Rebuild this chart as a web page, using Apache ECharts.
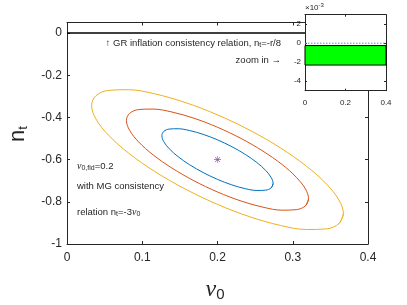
<!DOCTYPE html>
<html>
<head>
<meta charset="utf-8">
<script src="https://cdn.jsdelivr.net/npm/echarts@6/dist/echarts.min.js"></script>
<style>html,body{margin:0;padding:0;background:#fff}#c{width:407px;height:305px}</style>
</head>
<body>
<div id="c"></div>
<script>
// ---- data ----
const fiducial = [[0.2, -0.6]];                 // (nu0, n_t) fiducial
const contour1 = [[0.2739,-0.7133],[0.2714,-0.7337],[0.2640,-0.7449],[0.2523,-0.7463],[0.2370,-0.7378],[0.2191,-0.7198],[0.2000,-0.6937],[0.1809,-0.6612],[0.1630,-0.6245],[0.1477,-0.5862],[0.1360,-0.5488],[0.1286,-0.5149],[0.1261,-0.4867],[0.1286,-0.4663],[0.1360,-0.4551],[0.1477,-0.4537],[0.1630,-0.4622],[0.1809,-0.4802],[0.2000,-0.5063],[0.2191,-0.5388],[0.2370,-0.5755],[0.2523,-0.6138],[0.2640,-0.6512],[0.2714,-0.6851]];
const contour2 = [[0.3210,-0.7855],[0.3169,-0.8188],[0.3048,-0.8373],[0.2856,-0.8396],[0.2605,-0.8256],[0.2313,-0.7962],[0.2000,-0.7534],[0.1687,-0.7002],[0.1395,-0.6401],[0.1144,-0.5774],[0.0952,-0.5161],[0.0831,-0.4606],[0.0790,-0.4145],[0.0831,-0.3812],[0.0952,-0.3627],[0.1144,-0.3604],[0.1395,-0.3744],[0.1687,-0.4038],[0.2000,-0.4466],[0.2313,-0.4998],[0.2605,-0.5599],[0.2856,-0.6226],[0.3048,-0.6839],[0.3169,-0.7394]];
const contour3 = [[0.3673,-0.8565],[0.3616,-0.9027],[0.3449,-0.9282],[0.3183,-0.9314],[0.2837,-0.9120],[0.2433,-0.8713],[0.2000,-0.8122],[0.1567,-0.7386],[0.1163,-0.6555],[0.0817,-0.5687],[0.0551,-0.4839],[0.0384,-0.4072],[0.0327,-0.3435],[0.0384,-0.2973],[0.0551,-0.2718],[0.0817,-0.2686],[0.1163,-0.2880],[0.1567,-0.3287],[0.2000,-0.3878],[0.2433,-0.4614],[0.2837,-0.5445],[0.3183,-0.6313],[0.3449,-0.7161],[0.3616,-0.7928]];
const grRelation = [[0, 0], [0.4, 0]];          // n_t = -r/8 ~ 0
const zoomZero = [[0, 0], [0.4, 0]];
const zoomBand = [-0.00025, -0.0023];           // green band (top, bottom)
const mainXTicks = [0, 0.1, 0.2, 0.3, 0.4];
const mainYTicks = [-1, -0.8, -0.6, -0.4, -0.2, 0];
const zoomXTicks = [0, 0.2, 0.4];
const zoomYTicks = [-0.004, -0.002, 0, 0.002];

const AX = '#262626';
const FONT = 'Liberation Sans, Arial, Helvetica, sans-serif';
const close = a => a.concat([a[0], a[1]]);

const chart = echarts.init(document.getElementById('c'), null, {renderer: 'canvas'});

function ax(extra) {
  return Object.assign({
    type: 'value',
    axisLine: {show: true, onZero: false, lineStyle: {color: AX, width: 1}},
    axisTick: {show: true, inside: true, length: 3, lineStyle: {color: AX}},
    splitLine: {show: false},
    axisLabel: {show: false}
  }, extra);
}

const option = {
  animation: false,
  backgroundColor: '#fff',
  grid: [
    {left: 67, right: 39, top: 22.5, bottom: 61, show: false},
    {left: 305, width: 81, top: 14.7, height: 76, show: true, backgroundColor: '#fff', borderWidth: 0, z: 10}
  ],
  xAxis: [
    ax({gridIndex: 0, position: 'bottom', min: 0, max: 0.4, interval: 0.1,
        axisLabel: {show: true, color: AX, fontSize: 12, fontFamily: FONT, margin: 8,
                    customValues: mainXTicks}}),
    ax({gridIndex: 0, position: 'top', min: 0, max: 0.4, interval: 0.1}),
    ax({gridIndex: 1, position: 'bottom', min: 0, max: 0.4, interval: 0.2, z: 12,
        axisTick: {show: true, inside: true, length: 2, lineStyle: {color: AX}},
        axisLabel: {show: true, color: AX, fontSize: 8, fontFamily: FONT, margin: 8, customValues: zoomXTicks}}),
    ax({gridIndex: 1, position: 'top', min: 0, max: 0.4, interval: 0.2, z: 12,
        axisTick: {show: true, inside: true, length: 2, lineStyle: {color: AX}}})
  ],
  yAxis: [
    ax({gridIndex: 0, position: 'left', min: -1, max: 0.05, interval: 0.2,
        axisTick: {show: true, inside: true, length: 3, customValues: mainYTicks, lineStyle: {color: AX}},
        axisLabel: {show: true, color: AX, fontSize: 12, fontFamily: FONT, margin: 5,
                    customValues: mainYTicks, formatter: v => String(Math.round(v * 10) / 10)}}),
    ax({gridIndex: 0, position: 'right', min: -1, max: 0.05, interval: 0.2,
        axisTick: {show: true, inside: true, length: 3, customValues: mainYTicks, lineStyle: {color: AX}}}),
    ax({gridIndex: 1, position: 'left', min: -0.005, max: 0.003, z: 12,
        axisTick: {show: true, inside: true, length: 2, customValues: zoomYTicks, lineStyle: {color: AX}},
        axisLabel: {show: true, color: AX, fontSize: 8, fontFamily: FONT, margin: 4,
                    customValues: zoomYTicks, formatter: v => String(Math.round(v * 1000))}}),
    ax({gridIndex: 1, position: 'right', min: -0.005, max: 0.003, z: 12,
        axisTick: {show: true, inside: true, length: 2, customValues: zoomYTicks, lineStyle: {color: AX}}})
  ],
  series: [
    {type: 'line', xAxisIndex: 0, yAxisIndex: 0, data: grRelation, showSymbol: false, z: 3,
     lineStyle: {color: '#000', width: 1.5}},
    {type: 'line', xAxisIndex: 0, yAxisIndex: 0, data: close(contour3), showSymbol: false, smooth: 0.35,
     lineStyle: {color: '#EDB120', width: 1}},
    {type: 'line', xAxisIndex: 0, yAxisIndex: 0, data: close(contour2), showSymbol: false, smooth: 0.35,
     lineStyle: {color: '#D95319', width: 1}},
    {type: 'line', xAxisIndex: 0, yAxisIndex: 0, data: close(contour1), showSymbol: false, smooth: 0.35,
     lineStyle: {color: '#0072BD', width: 1}},
    {type: 'scatter', xAxisIndex: 0, yAxisIndex: 0, data: fiducial, symbolSize: 7,
     symbol: 'path://M0,4.6L10,4.6L10,5.4L0,5.4Z M4.6,0L5.4,0L5.4,10L4.6,10Z M1.2,1.8L1.8,1.2L8.8,8.2L8.2,8.8Z M8.2,1.2L8.8,1.8L1.8,8.8L1.2,8.2Z',
     itemStyle: {color: '#7E2F8E'}},
    {type: 'line', xAxisIndex: 2, yAxisIndex: 2, data: [[0, zoomBand[0]], [0.4, zoomBand[0]]], showSymbol: false, z: 11,
     lineStyle: {width: 0},
     markArea: {silent: true, z: 13, itemStyle: {color: '#00FF00', borderColor: '#000', borderWidth: 1},
       data: [[{coord: [0, zoomBand[0]]}, {coord: [0.4, zoomBand[1]]}]]}},
    {type: 'line', xAxisIndex: 2, yAxisIndex: 2, data: zoomZero, showSymbol: false, z: 14,
     lineStyle: {color: '#5a8fd0', width: 1, type: [1.5, 1.5]}}
  ],
  graphic: [
    {type: 'text', x: 281, y: 43, z: 20, style: {text: '↑ GR inflation consistency relation, n{s|t}=-r/8',
      font: '9.5px ' + FONT, fill: AX, align: 'right', verticalAlign: 'middle',
      rich: {s: {fontSize: 7, fontFamily: FONT, fill: AX, padding: [5, 0, 0, 0]}}}},
    {type: 'text', x: 281, y: 60, z: 20, style: {text: 'zoom in →', font: '9.5px ' + FONT, fill: AX,
      align: 'right', verticalAlign: 'middle'}},
    {type: 'text', x: 77, y: 166, z: 20, style: {text: '{v|ν}{s|0,fid}=0.2', font: '9.5px ' + FONT, fill: AX,
      align: 'left', verticalAlign: 'middle',
      rich: {v: {fontSize: 10, fontFamily: 'Liberation Serif', fontStyle: 'italic', fill: AX},
             s: {fontSize: 7, fontFamily: FONT, fill: AX, padding: [5, 0, 0, 0]}}}},
    {type: 'text', x: 77, y: 186, z: 20, style: {text: 'with MG consistency', font: '9.5px ' + FONT, fill: AX,
      align: 'left', verticalAlign: 'middle'}},
    {type: 'text', x: 77, y: 212, z: 20, style: {text: 'relation n{s|t}=-3{v|ν}{s|0}', font: '9.5px ' + FONT, fill: AX,
      align: 'left', verticalAlign: 'middle',
      rich: {v: {fontSize: 10, fontFamily: 'Liberation Serif', fontStyle: 'italic', fill: AX},
             s: {fontSize: 7, fontFamily: FONT, fill: AX, padding: [5, 0, 0, 0]}}}},
    {type: 'text', x: 305, y: 8, z: 20, style: {text: '×10{p|-3}', font: '8px ' + FONT, fill: AX,
      align: 'left', verticalAlign: 'middle',
      rich: {p: {fontSize: 6, fontFamily: FONT, fill: AX, padding: [0, 0, 5, 0]}}}},
    {type: 'text', x: 18, y: 134, rotation: Math.PI / 2, z: 20, style: {text: 'n{s|t}', font: '22px ' + FONT, fill: AX,
      align: 'center', verticalAlign: 'middle',
      rich: {s: {fontSize: 13, fontFamily: FONT, fill: AX, padding: [10, 0, 0, 0]}}}},
    {type: 'text', x: 215, y: 290, z: 20, style: {text: '{v|ν}{s|0}', font: '22px ' + FONT, fill: AX,
      align: 'center', verticalAlign: 'middle',
      rich: {v: {fontSize: 24, fontFamily: 'Liberation Serif', fontStyle: 'italic', fill: AX},
             s: {fontSize: 15, fontFamily: FONT, fill: AX, padding: [10, 0, 0, 0]}}}}
  ]
};
chart.setOption(option);
</script>
</body>
</html>
